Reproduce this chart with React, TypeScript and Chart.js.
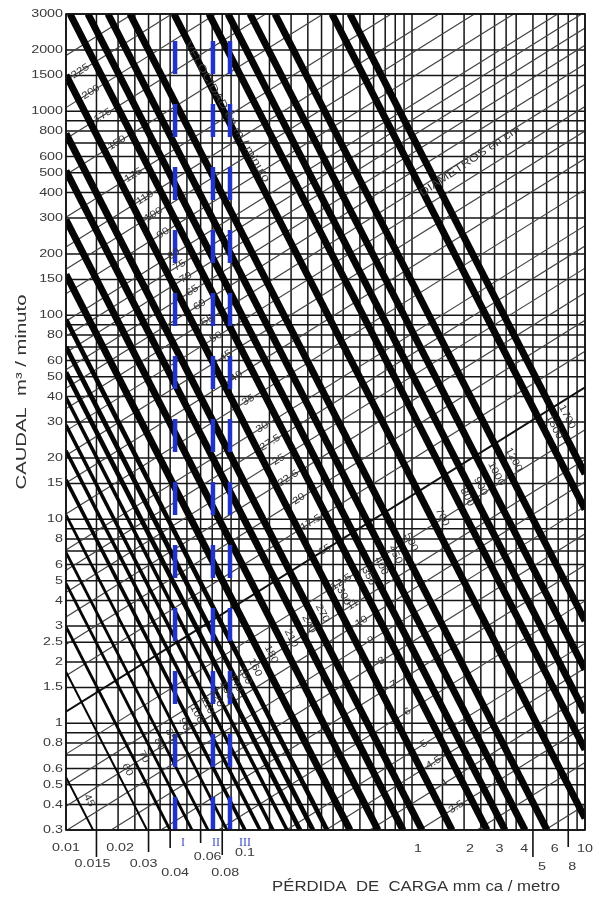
import React, { useEffect, useRef } from 'react';
import { Chart, registerables } from 'chart.js';
Chart.register(...registerables);

// ---------- DATA ----------
const J_MIN = 0.01, J_MAX = 10, Q_MIN = 0.3, Q_MAX = 3000;

const xGridValues = [0.01,0.015,0.02,0.025,0.03,0.035,0.04,0.05,0.06,0.07,0.08,0.09,0.1,0.15,0.2,0.25,0.3,0.35,0.4,0.5,0.6,0.7,0.8,0.9,1,1.5,2,2.5,3,3.5,4,5,6,7,8,9,10];
const yGridValues = [0.3,0.4,0.5,0.6,0.7,0.8,0.9,1,1.5,2,2.5,3,4,5,6,7,8,9,10,15,20,30,40,50,60,70,80,90,100,150,200,300,400,500,600,700,800,900,1000,1500,2000,3000];

const yTickValues = [0.3,0.4,0.5,0.6,0.8,1,1.5,2,2.5,3,4,5,6,8,10,15,20,30,40,50,60,80,100,150,200,300,400,500,600,800,1000,1500,2000,3000];
const yTickLabels = ['0.3','0.4','0.5','0.6','0.8','1','1.5','2','2.5','3','4','5','6','8','10','15','20','30','40','50','60','80','100','150','200','300','400','500','600','800','1000','1500','2000','3000'];

const xTickValues = [0.01,0.015,0.02,0.03,0.04,0.06,0.08,0.1,1,2,3,4,5,6,8,10];
const xTickLabels = ['0.01','0.015','0.02','0.03','0.04','0.06','0.08','0.1','1','2','3','4','5','6','8','10'];

// velocity lines (m / minuto): visible start and end points (J, Q)
const velocityLabels = ['45','60','70','80','85','90','100','110','120','130','140','150','160','180','210','240','270','300','350','400','450','500','700','800','900','1000','1200','1500','1700'];
const velocityStartJ = [0.01,0.01,0.01,0.01,0.01,0.01,0.01,0.01,0.01,0.01,0.01,0.01,0.01,0.01,0.01,0.01,0.01,0.01,0.01055,0.0134,0.01749,0.02344,0.04208,0.06709,0.08641,0.1158,0.1615,0.3448,0.4381];
const velocityStartQ = [0.545,1.79,2.98,4.85,6.89,10.5,15.6,21.7,29.0,39.5,52.6,70.0,95.4,158.5,294,511,777,1507,3000,3000,3000,3000,3000,3000,3000,3000,3000,3000,3000];
const velocityEndJ = [0.01433,0.02939,0.03993,0.05349,0.0662,0.0852,0.1083,0.1323,0.1572,0.1894,0.2252,0.2677,0.3226,0.4381,0.6361,0.8872,1.142,1.703,2.714,3.448,4.5,6.031,10,10,10,10,10,10,10];
const velocityEndQ = [0.3,0.3,0.3,0.3,0.3,0.3,0.3,0.3,0.3,0.3,0.3,0.3,0.3,0.3,0.3,0.3,0.3,0.3,0.3,0.3,0.3,0.3,0.343,0.742,1.128,1.834,3.18,11.2,16.7];

// diameter lines (cm): Q at J = 0.01 and Q at J = 10
const diameterLabels = ['2.5','3','3.5','4','4.5','5','6','7','8','9','10','11','12.5','15','17.5','20','22.5','25','27.5','30','35','40','45','50','55','60','65','70','75','80','90','100','110','125','150','175','200','225','250'];
const diameterQAtJMin = [0.01022,0.01651,0.02478,0.03521,0.04799,0.06334,0.1024,0.1536,0.2183,0.2976,0.3926,0.5047,0.7066,1.141,1.713,2.434,3.319,4.378,5.627,7.073,10.62,15.09,20.57,27.15,34.88,43.87,54.15,65.81,78.93,93.55,127.5,168.3,216.3,302.7,489.3,733.9,1043,1422,1877];
const diameterQAtJMax = [0.3975,0.6423,0.9641,1.370,1.867,2.465,3.983,5.975,8.492,11.57,15.28,19.63,27.49,44.41,66.63,94.67,129.1,170.3,218.9,275.2,413.1,587.0,800.4,1056,1357,1707,2107,2561,3071,3639,4961,6546,8414,11776,19036,28550,40570,55340,73000];

// zones I, II, III (vertical dashed lines)
const zoneLabels = ['I','II','III'];
const zoneJ = [0.0427,0.0707,0.0887];

// ---------- STYLE / LAYOUT ----------
const FONT = '"Liberation Sans", Arial, sans-serif';
const GRID_COLOR = '#151515';
// per x tick label: [dx, label y, tick extension end y (0 = none)]
const xTickLayout = [[0,848,0],[-4,864,857],[2,848,0],[-5,864,852],[5,873,848],[7,857,843],[3,873,855],[6,853,0],[6,849,0],[6,849,0],[5,849,0],[8,849,0],[9,867,857],[8,849,0],[4,867,847],[0,849,0]];
const zoneLabelDx = [8, 3, 15];
const velocityWidth = (i: number) => (i < 2 ? 2 : i < 6 ? 2.8 : i < 10 ? 3.6 : i < 13 ? 4.8 : 7);
// band (J,Q) along which velocity labels sit
const VEL_BAND = [[0.0168, 0.498], [7.17, 30.7]];
const DIAM_LABEL_LINE = 18; // diameter labels sit beside this velocity line

function drawText(ctx: CanvasRenderingContext2D, text: string, x: number, y: number, o: any) {
  ctx.save();
  ctx.translate(x, y);
  if (o.rot) ctx.rotate(o.rot);
  ctx.font = o.font;
  let sx = o.sx || 1;
  if (o.width) sx = o.width / ctx.measureText(text).width;
  ctx.scale(sx, 1);
  ctx.fillStyle = o.color || '#333';
  ctx.textAlign = o.align || 'center';
  ctx.textBaseline = o.baseline || 'middle';
  ctx.fillText(text, 0, 0);
  ctx.restore();
}

function intersectLog(p1: number[], p2: number[], b1: number[], b2: number[]) {
  const L = (p: number[]) => [Math.log10(p[0]), Math.log10(p[1])];
  const [a1, a2, c1, c2] = [L(p1), L(p2), L(b1), L(b2)];
  const d1 = [a2[0] - a1[0], a2[1] - a1[1]];
  const d2 = [c2[0] - c1[0], c2[1] - c1[1]];
  const den = d1[0] * d2[1] - d1[1] * d2[0];
  if (Math.abs(den) < 1e-9) return null;
  const t = ((c1[0] - a1[0]) * d2[1] - (c1[1] - a1[1]) * d2[0]) / den;
  return [Math.pow(10, a1[0] + t * d1[0]), Math.pow(10, a1[1] + t * d1[1])];
}

const nomogramPlugin = {
  id: 'nomogram',
  beforeDraw(chart: any) {
    const ctx = chart.ctx;
    ctx.save();
    ctx.fillStyle = '#fff';
    ctx.fillRect(0, 0, chart.width, chart.height);
    ctx.restore();
  },
  beforeDatasetsDraw(chart: any) {
    const { ctx, chartArea: a, scales } = chart;
    const x = scales.x, y = scales.y;
    ctx.save();
    ctx.strokeStyle = GRID_COLOR;
    ctx.lineWidth = 1.5;
    ctx.beginPath();
    xGridValues.forEach((v) => {
      const px = x.getPixelForValue(v);
      ctx.moveTo(px, a.top);
      ctx.lineTo(px, a.bottom);
    });
    yGridValues.forEach((v) => {
      const py = y.getPixelForValue(v);
      ctx.moveTo(a.left, py);
      ctx.lineTo(a.right, py);
    });
    ctx.stroke();
    ctx.restore();
  },
  afterDatasetsDraw(chart: any) {
    const { ctx, chartArea: a, scales } = chart;
    const x = scales.x, y = scales.y;
    const inside = (px: number, py: number, m = 0) => px >= a.left + m && px <= a.right - m && py >= a.top + m && py <= a.bottom - m;

    // border
    ctx.save();
    ctx.strokeStyle = '#111';
    ctx.lineWidth = 1.6;
    ctx.strokeRect(a.left, a.top, a.right - a.left, a.bottom - a.top);

    // tick extensions
    ctx.lineWidth = 1.6;
    ctx.beginPath();
    xTickValues.forEach((v, i) => {
      const ext = xTickLayout[i][2];
      if (ext) {
        const px = x.getPixelForValue(v);
        ctx.moveTo(px, a.bottom);
        ctx.lineTo(px, ext);
      }
    });
    ctx.stroke();
    ctx.restore();

    // y tick labels
    yTickValues.forEach((v, i) => {
      drawText(ctx, yTickLabels[i], a.left - 3, y.getPixelForValue(v), { font: `11px ${FONT}`, sx: 1.3, align: 'right', color: '#3a3a3a' });
    });
    // x tick labels
    xTickValues.forEach((v, i) => {
      const [dx, ly] = xTickLayout[i];
      drawText(ctx, xTickLabels[i], x.getPixelForValue(v) + dx, ly, { font: `11px ${FONT}`, sx: 1.3, color: '#3a3a3a' });
    });

    // zone labels
    zoneJ.forEach((v, i) => {
      drawText(ctx, zoneLabels[i], x.getPixelForValue(v) + zoneLabelDx[i], 843, { font: `12px "Liberation Serif", "DejaVu Serif", serif`, color: '#4050c0' });
    });

    // velocity labels
    velocityLabels.forEach((lab, i) => {
      const p1 = [velocityStartJ[i], velocityStartQ[i]];
      const p2 = [velocityEndJ[i], velocityEndQ[i]];
      const hit = intersectLog(p1, p2, VEL_BAND[0], VEL_BAND[1]);
      if (!hit) return;
      const x1 = x.getPixelForValue(p1[0]), y1 = y.getPixelForValue(p1[1]);
      const x2 = x.getPixelForValue(p2[0]), y2 = y.getPixelForValue(p2[1]);
      const ang = Math.atan2(y2 - y1, x2 - x1);
      const nx = Math.sin(ang), ny = -Math.cos(ang);
      const hx = x.getPixelForValue(hit[0]) + nx * 10;
      const hy = y.getPixelForValue(hit[1]) + ny * 10;
      if (!inside(hx, hy, 8)) return;
      drawText(ctx, lab, hx, hy, { font: `10px ${FONT}`, sx: 1.15, rot: ang, color: '#333' });
    });

    // diameter labels
    const vp1 = [velocityStartJ[DIAM_LABEL_LINE], velocityStartQ[DIAM_LABEL_LINE]];
    const vp2 = [velocityEndJ[DIAM_LABEL_LINE], velocityEndQ[DIAM_LABEL_LINE]];
    diameterLabels.forEach((lab, i) => {
      const d1 = [J_MIN, diameterQAtJMin[i]], d2 = [J_MAX, diameterQAtJMax[i]];
      const hit = intersectLog(d1, d2, vp1, vp2);
      if (!hit) return;
      const x1 = x.getPixelForValue(d1[0]), y1 = y.getPixelForValue(d1[1]);
      const x2 = x.getPixelForValue(d2[0]), y2 = y.getPixelForValue(d2[1]);
      const ang = Math.atan2(y2 - y1, x2 - x1);
      const hx = x.getPixelForValue(hit[0]) - Math.cos(ang) * 17;
      const hy = y.getPixelForValue(hit[1]) - Math.sin(ang) * 17;
      if (!inside(hx, hy, 6)) return;
      drawText(ctx, lab, hx, hy, { font: `10px ${FONT}`, sx: 1.15, rot: ang, color: '#333' });
    });

    // line family captions
    drawText(ctx, 'DIAMETROS en cm', x.getPixelForValue(2.16), y.getPixelForValue(570), { font: `11px ${FONT}`, sx: 1.2, rot: -34 * Math.PI / 180, color: '#3a3a3a' });
    drawText(ctx, 'VELOCIDAD en m / minuto', x.getPixelForValue(0.0852), y.getPixelForValue(992), { font: `11px ${FONT}`, sx: 1.2, rot: 60 * Math.PI / 180, color: '#3a3a3a' });

    // axis titles
    drawText(ctx, 'PÉRDIDA  DE  CARGA mm ca / metro', 272, 887, { font: `14px ${FONT}`, width: 288, align: 'left', color: '#333' });
    drawText(ctx, 'CAUDAL  m³ / minuto', 22, 392, { font: `14px ${FONT}`, width: 195, rot: -Math.PI / 2, color: '#333' });
  },
};

export default function App() {
  const ref = useRef<HTMLCanvasElement | null>(null);
  useEffect(() => {
    if (!ref.current) return;
    const datasets: any[] = [];
    zoneJ.forEach((v, i) => {
      datasets.push({
        label: 'zone ' + zoneLabels[i],
        data: [{ x: v, y: Q_MIN }, { x: v, y: Q_MAX }],
        showLine: true, borderColor: '#2234c8', borderWidth: 4.5, borderDash: [33, 30],
        pointRadius: 0, order: 1, borderCapStyle: 'butt',
      });
    });
    velocityLabels.forEach((lab, i) => {
      datasets.push({
        label: 'v ' + lab,
        data: [{ x: velocityStartJ[i], y: velocityStartQ[i] }, { x: velocityEndJ[i], y: velocityEndQ[i] }],
        showLine: true, borderColor: '#050505', borderWidth: velocityWidth(i),
        pointRadius: 0, order: 2, borderCapStyle: 'butt',
      });
    });
    diameterLabels.forEach((lab, i) => {
      const dark = lab === '15';
      datasets.push({
        label: 'd ' + lab,
        data: [{ x: J_MIN, y: diameterQAtJMin[i] }, { x: J_MAX, y: diameterQAtJMax[i] }],
        showLine: true, borderColor: dark ? '#111' : '#444', borderWidth: dark ? 2 : 1.2,
        pointRadius: 0, order: 3,
      });
    });
    const chart = new Chart(ref.current, {
      type: 'scatter',
      data: { datasets },
      options: {
        responsive: false,
        animation: false,
        events: [],
        layout: { padding: { left: 66, top: 14, right: 10, bottom: 71 } },
        scales: {
          x: { type: 'logarithmic', min: J_MIN, max: J_MAX, display: false },
          y: { type: 'logarithmic', min: Q_MIN, max: Q_MAX, display: false },
        },
        plugins: { legend: { display: false }, tooltip: { enabled: false } },
      } as any,
      plugins: [nomogramPlugin as any],
    });
    return () => chart.destroy();
  }, []);
  return (
    <div style={{ position: 'fixed', left: 0, top: 0, width: 595, height: 901, background: '#fff' }}>
      <canvas ref={ref} width={595} height={901} style={{ display: 'block', width: 595, height: 901 }} />
    </div>
  );
}
